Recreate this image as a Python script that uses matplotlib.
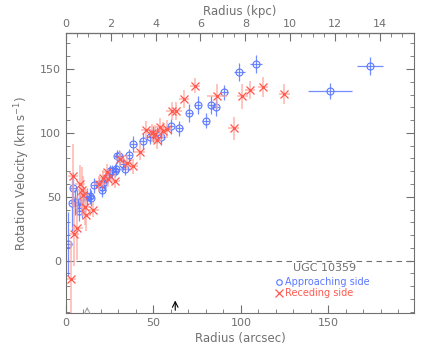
import numpy as np
import matplotlib.pyplot as plt

# approaching side (blue circles)
app_r = [1.3, 3.6, 4.2, 5.3, 6.5, 7.6, 9.3, 9.9, 12.3, 13.9, 14.3, 16.2, 18.8, 20.5, 20.9,
         21.9, 23.0, 24.4, 25.3, 26.6, 27.8, 28.7, 29.5, 30.3, 32.9, 33.9, 35.8, 38.6, 44.0,
         47.8, 49.7, 52.0, 54.5, 60.0, 64.7, 70.5, 75.4, 79.8, 83.0, 85.7, 90.5, 99.2, 108.7,
         151.0, 173.5]
app_v = [13, 45, 57, 46, 46, 39, 41, 50, 50, 50.5, 49, 59, 59.6, 58, 55,
         61.4, 64.8, 68, 69.8, 70, 70.5, 71.8, 81.7, 81.5, 75.8, 71.9, 82.3, 91.4, 93.5,
         97, 99.2, 98.4, 96.6, 105, 103.6, 115.3, 121.9, 109.6, 122, 120, 131.7, 147.9, 153.9,
         132.8, 152]
app_ev = [25, 22, 12, 10, 10, 8, 8, 7, 7, 6, 6, 6, 5, 5, 5,
          5, 5, 5, 5, 5, 5, 5, 5, 5, 5, 5, 5, 6, 6,
          6, 6, 6, 6, 6, 6, 7, 7, 6, 7, 7, 6, 7, 7,
          6, 7]
app_er = [2, 2, 2, 2, 2, 2, 2, 2, 2, 2, 2, 2, 2, 2, 2,
          2, 2, 2, 2, 2, 2, 2, 2, 2, 2, 2, 2, 2, 2,
          2, 2, 2, 2, 2, 2, 2, 2, 2, 2, 2, 2, 3, 3.5,
          12.7, 7.4]

# receding side (red crosses)
rec_r = [3.0, 4.0, 4.7, 6.6, 8.2, 9.5, 10.0, 11.0, 11.6, 15.8, 19.2, 21.1, 23.4, 24.3,
         28.2, 31.0, 34.9, 38.3, 42.2, 45.7, 49.1, 51.0, 52.0, 53.8, 55.5, 57.7, 60.4,
         63.2, 67.4, 73.9, 86.3, 95.8, 100.9, 105.3, 112.6, 124.9]
rec_v = [-14.6, 66.6, 21, 25.8, 60, 55.5, 51, 41.9, 35.4, 40, 60, 64.8, 69.5, 63.8,
         62.7, 79.7, 76.6, 73.9, 85.4, 102.5, 100, 99.2, 94.5, 104.9, 101.8, 102.8, 117.2,
         117.2, 126.8, 137, 128.6, 103.6, 128.6, 133.8, 136, 130.5]
rec_ev = [30, 25, 25, 25, 15, 18, 15, 14, 12, 6, 6, 6, 6, 6,
          6, 6, 6, 6, 7, 7, 7, 7, 7, 7, 7, 7, 7,
          7, 7, 6, 10, 9, 10, 7, 8, 8]
rec_er = [3, 3, 3, 3, 3, 3, 3, 3, 3, 3, 3, 3, 3, 3,
          3, 3, 3, 3, 3, 3, 3, 3, 3, 3, 3, 3, 3,
          3, 3, 3, 5.7, 3, 3, 3, 3, 3]

kpc_per_arcsec = 0.078
grey = '#707070'
blue = '#5a78ff'
red = '#ff5a50'

plt.rcParams['font.family'] = 'DejaVu Sans'
fig = plt.figure(figsize=(4.36, 3.49), dpi=100)
ax = fig.add_axes([0.151, 0.103, 0.799, 0.802])

ax.axhline(0, color=grey, ls=(0, (5, 4)), lw=0.8)

ax.errorbar(app_r, app_v, yerr=app_ev, xerr=app_er, fmt='none', ecolor=blue, elinewidth=0.9, alpha=0.85)
ax.plot(app_r, app_v, 'o', mfc='none', mec=blue, ms=5, mew=0.8)
ax.errorbar(rec_r, rec_v, yerr=rec_ev, xerr=rec_er, fmt='none', ecolor='#ffa8a0', elinewidth=1.2, alpha=0.8)
ax.plot(rec_r, rec_v, 'x', color=red, ms=6, mew=0.9)
ax.plot(rec_r, rec_v, '.', color=red, ms=2)

ax.set_xlim(0, 199)
ax.set_ylim(-41, 178)
ax.set_xticks([0, 50, 100, 150])
ax.set_xticks(np.arange(0, 200, 10), minor=True)
ax.set_yticks([0, 50, 100, 150])
ax.set_yticks(np.arange(-40, 180, 10), minor=True)
ax.tick_params(which='both', direction='in', colors=grey, labelsize=8, right=True)
ax.tick_params(which='major', length=6)
ax.tick_params(which='minor', length=3)
for s in ax.spines.values():
    s.set_color(grey)

sec = ax.secondary_xaxis('top', functions=(lambda x: x * kpc_per_arcsec, lambda k: k / kpc_per_arcsec))
sec.set_xticks(np.arange(0, 15, 2))
sec.set_xticks(np.arange(0, 15.5, 0.5), minor=True)
sec.tick_params(which='both', direction='in', colors=grey, labelsize=8, pad=3)
sec.tick_params(which='major', length=6)
sec.tick_params(which='minor', length=3)
sec.set_xlabel('Radius (kpc)', color=grey, fontsize=8.5, labelpad=3)

ax.set_xlabel('Radius (arcsec)', color=grey, fontsize=8.5, labelpad=3)
ax.set_ylabel('Rotation Velocity (km s$^{-1}$)', color=grey, fontsize=8.5, labelpad=6)

# arrows marking radii
ax.annotate('', xy=(12.2, -34), xytext=(12.2, -41),
            arrowprops=dict(arrowstyle='->', color='#a0a0a0', lw=0.7))
ax.annotate('', xy=(62.5, -29), xytext=(62.5, -41),
            arrowprops=dict(arrowstyle='->', color='black', lw=0.8))

# legend
ax.text(148, -6, 'UGC 10359', color=grey, fontsize=8, ha='center', va='center')
ax.plot([121.5], [-17], 'o', mfc='none', mec=blue, ms=4, mew=0.8)
ax.text(125, -17, 'Approaching side', color=blue, fontsize=7, va='center')
ax.plot([121.5], [-25.5], 'x', color=red, ms=6, mew=0.9)
ax.text(125, -25.5, 'Receding side', color=red, fontsize=7, va='center')

fig.savefig('out.png', dpi=100)
